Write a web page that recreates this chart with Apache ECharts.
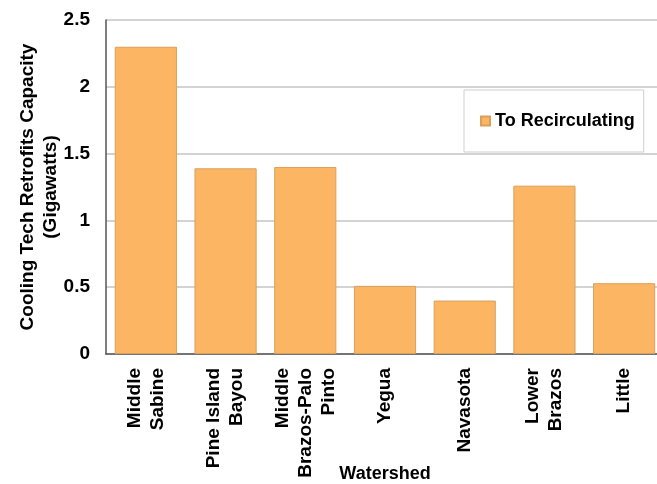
<!DOCTYPE html>
<html>
<head>
<meta charset="utf-8">
<script src="https://cdn.jsdelivr.net/npm/echarts@6/dist/echarts.min.js"></script>
<style>
  html, body { margin: 0; padding: 0; background: #fff; }
  #chart { width: 657px; height: 484px; }
</style>
</head>
<body>
<div id="chart"></div>
<script>
// Watershed categories (line breaks as shown under the axis)
const watersheds = [
  'Middle\nSabine',
  'Pine Island\nBayou',
  'Middle\nBrazos-Palo\nPinto',
  'Yegua',
  'Navasota',
  'Lower\nBrazos',
  'Little'
];
// Retrofit capacity switching to recirculating cooling, GW
const toRecirculating = [2.30, 1.39, 1.40, 0.51, 0.40, 1.26, 0.53];
const seriesName = 'To Recirculating';
const yTicks = { min: 0, max: 2.5, step: 0.5 };

const font = '"Liberation Sans", Arial, sans-serif';
const chart = echarts.init(document.getElementById('chart'), null, { renderer: 'canvas' });

chart.setOption({
  animation: false,
  backgroundColor: '#ffffff',
  textStyle: { fontFamily: font },
  grid: {
    left: 106, right: -7, top: 20, bottom: 130,
    containLabel: false,
    outerBoundsMode: 'none'
  },
  legend: {
    data: [seriesName],
    left: 464,
    top: 90,
    padding: [22, 9, 22, 16],
    itemWidth: 9,
    itemHeight: 9,
    itemGap: 5,
    icon: 'rect',
    borderColor: '#cfcfcf',
    borderWidth: 1,
    backgroundColor: '#ffffff',
    textStyle: { fontFamily: font, fontSize: 18, fontWeight: 'bold', color: '#000' }
  },
  xAxis: {
    type: 'category',
    data: watersheds,
    name: 'Watershed',
    nameLocation: 'middle',
    nameGap: 111,
    nameMoveOverlap: false,
    nameTextStyle: { fontFamily: font, fontSize: 18, fontWeight: 'bold', color: '#000' },
    axisLine: { lineStyle: { color: '#555', width: 1.5 } },
    axisTick: { show: false },
    axisLabel: {
      interval: 0,
      rotate: 90,
      margin: 14,
      fontFamily: font,
      fontSize: 19,
      fontWeight: 'bold',
      color: '#000',
      lineHeight: 23
    }
  },
  yAxis: {
    type: 'value',
    min: yTicks.min,
    max: yTicks.max,
    interval: yTicks.step,
    name: 'Cooling Tech Retrofits Capacity\n(Gigawatts)',
    nameLocation: 'middle',
    nameGap: 44,
    nameMoveOverlap: false,
    nameTextStyle: { fontFamily: font, fontSize: 19, fontWeight: 'bold', color: '#000', lineHeight: 23 },
    axisLine: { show: true, lineStyle: { color: '#555', width: 1.5 } },
    axisTick: { show: false },
    splitLine: { show: true, lineStyle: { color: '#c4c4c4', width: 1.5 } },
    axisLabel: {
      margin: 16,
      fontFamily: font,
      fontSize: 19,
      fontWeight: 'bold',
      color: '#000',
      formatter: v => String(v)
    }
  },
  series: [{
    name: seriesName,
    type: 'bar',
    data: toRecirculating,
    barCategoryGap: '22%',
    itemStyle: { color: '#FBB563', borderColor: '#D9A05C', borderWidth: 1 }
  }]
});
</script>
</body>
</html>
